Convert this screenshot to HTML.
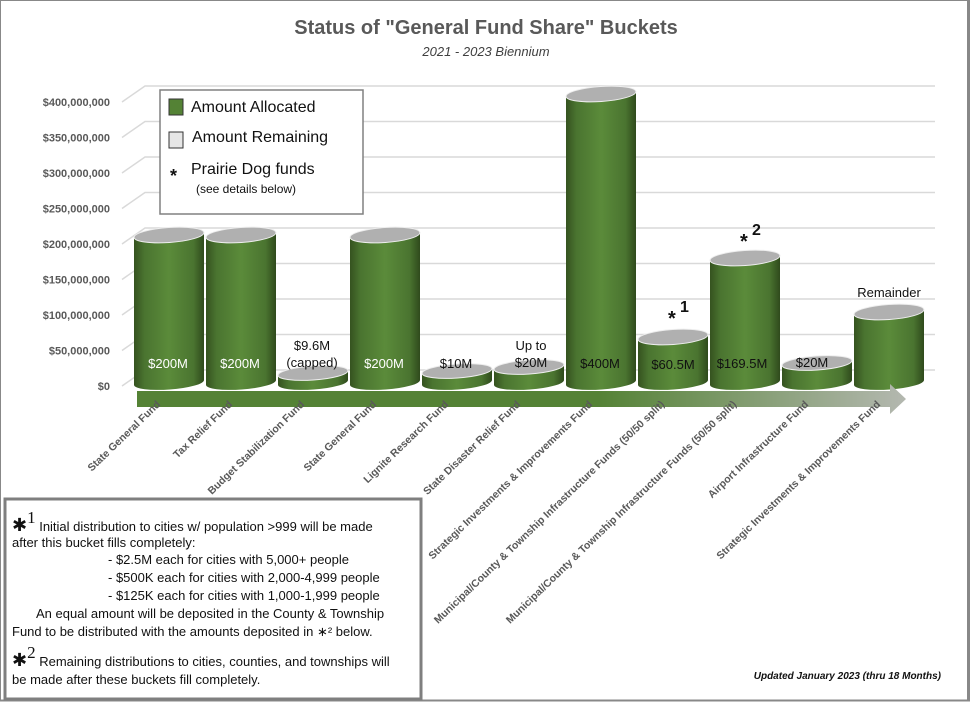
<!DOCTYPE html>
<html><head><meta charset="utf-8"><style>
html,body{margin:0;padding:0;background:#fff}
svg{display:block}
text{font-family:"Liberation Sans",sans-serif}
</style></head><body>
<svg width="972" height="703" viewBox="0 0 972 703" xmlns="http://www.w3.org/2000/svg">
<defs>
<linearGradient id="cyl" x1="0" x2="1" y1="0" y2="0">
<stop offset="0" stop-color="#35521f"/><stop offset="0.15" stop-color="#4a7430"/>
<stop offset="0.5" stop-color="#5b8b3a"/><stop offset="0.85" stop-color="#4a7430"/>
<stop offset="1" stop-color="#2f4a1c"/></linearGradient>
<linearGradient id="arr" x1="0" x2="1" y1="0" y2="0">
<stop offset="0" stop-color="#548235"/><stop offset="0.6" stop-color="#548235"/>
<stop offset="1" stop-color="#b4b8b0"/></linearGradient>
</defs>
<rect x="0.5" y="0.5" width="968" height="700" fill="#fff" stroke="#888" stroke-width="1"/>
<line x1="968.5" y1="0" x2="968.5" y2="701" stroke="#888" stroke-width="3"/>
<line x1="0" y1="700.5" x2="970" y2="700.5" stroke="#888" stroke-width="2"/>
<text x="486" y="34" text-anchor="middle" font-size="20" font-weight="bold" fill="#595959">Status of "General Fund Share" Buckets</text>
<text x="486" y="56" text-anchor="middle" font-size="13" font-style="italic" fill="#404040">2021 - 2023 Biennium</text>
<g stroke="#d9d9d9" stroke-width="1.5" fill="none">
<path d="M122,102 L145,86 H935"/><path d="M122,137.5 L145,121.5 H935"/><path d="M122,173 L145,157 H935"/>
<path d="M122,208.5 L145,192.5 H935"/><path d="M122,244 L145,228 H935"/><path d="M122,279.5 L145,263.5 H935"/>
<path d="M122,315 L145,299 H935"/><path d="M122,350.5 L145,334.5 H935"/><path d="M122,386 L145,370 H935"/>
</g>
<g font-size="11" font-weight="bold" fill="#595959" text-anchor="end">
<text x="110" y="106">$400,000,000</text><text x="110" y="141.5">$350,000,000</text><text x="110" y="177">$300,000,000</text>
<text x="110" y="212.5">$250,000,000</text><text x="110" y="248">$200,000,000</text><text x="110" y="283.5">$150,000,000</text>
<text x="110" y="319">$100,000,000</text><text x="110" y="354.5">$50,000,000</text><text x="110" y="390">$0</text>
</g>
<g id="bars">
<g><path d="M134,237 V385 A35,7 -4 0 0 204,380 V232 Z" fill="url(#cyl)"/><ellipse cx="169" cy="235" rx="35" ry="7.5" transform="rotate(-4 169 235)" fill="#b0b0b0" stroke="#eee"/></g>
<g><path d="M206,237 V385 A35,7 -4 0 0 276,380 V232 Z" fill="url(#cyl)"/><ellipse cx="241" cy="235" rx="35" ry="7.5" transform="rotate(-4 241 235)" fill="#b0b0b0" stroke="#eee"/></g>
<g><path d="M278,375 V385 A35,7 -4 0 0 348,380 V370 Z" fill="url(#cyl)"/><ellipse cx="313" cy="373" rx="35" ry="7" transform="rotate(-4 313 373)" fill="#b0b0b0" stroke="#eee"/></g>
<g><path d="M350,237 V385 A35,7 -4 0 0 420,380 V232 Z" fill="url(#cyl)"/><ellipse cx="385" cy="235" rx="35" ry="7.5" transform="rotate(-4 385 235)" fill="#b0b0b0" stroke="#eee"/></g>
<g><path d="M422,373 V385 A35,7 -4 0 0 492,380 V368 Z" fill="url(#cyl)"/><ellipse cx="457" cy="371" rx="35" ry="7" transform="rotate(-4 457 371)" fill="#b0b0b0" stroke="#eee"/></g>
<g><path d="M494,369 V385 A35,7 -4 0 0 564,380 V364 Z" fill="url(#cyl)"/><ellipse cx="529" cy="367" rx="35" ry="7" transform="rotate(-4 529 367)" fill="#b0b0b0" stroke="#eee"/></g>
<g><path d="M566,96 V385 A35,7 -4 0 0 636,380 V91 Z" fill="url(#cyl)"/><ellipse cx="601" cy="94" rx="35" ry="7.5" transform="rotate(-4 601 94)" fill="#b0b0b0" stroke="#eee"/></g>
<g><path d="M638,339 V385 A35,7 -4 0 0 708,380 V334 Z" fill="url(#cyl)"/><ellipse cx="673" cy="337" rx="35" ry="7.5" transform="rotate(-4 673 337)" fill="#b0b0b0" stroke="#eee"/></g>
<g><path d="M710,260 V385 A35,7 -4 0 0 780,380 V255 Z" fill="url(#cyl)"/><ellipse cx="745" cy="258" rx="35" ry="7.5" transform="rotate(-4 745 258)" fill="#b0b0b0" stroke="#eee"/></g>
<g><path d="M782,365 V385 A35,7 -4 0 0 852,380 V360 Z" fill="url(#cyl)"/><ellipse cx="817" cy="363" rx="35" ry="7" transform="rotate(-4 817 363)" fill="#b0b0b0" stroke="#eee"/></g>
<g><path d="M854,314 V385 A35,7 -4 0 0 924,380 V309 Z" fill="url(#cyl)"/><ellipse cx="889" cy="312" rx="35" ry="7.5" transform="rotate(-4 889 312)" fill="#b0b0b0" stroke="#eee"/></g>
</g>
<g font-size="13" text-anchor="middle">
<text x="168" y="368" fill="#fff">$200M</text><text x="240" y="368" fill="#fff">$200M</text>
<text x="312" y="350" fill="#111">$9.6M</text><text x="312" y="367" fill="#111">(capped)</text>
<text x="384" y="368" fill="#fff">$200M</text><text x="456" y="368" fill="#111">$10M</text>
<text x="531" y="350" fill="#111">Up to</text><text x="531" y="367" fill="#111">$20M</text>
<text x="600" y="368" fill="#111">$400M</text><text x="673" y="369" fill="#111">$60.5M</text>
<text x="742" y="368" fill="#111">$169.5M</text><text x="812" y="367" fill="#111">$20M</text>
<text x="889" y="297" fill="#111">Remainder</text>
</g>
<g font-family="Liberation Serif,serif" font-weight="bold" fill="#111">
<text x="668" y="325" font-size="20">*</text><text x="680" y="312" font-size="16">1</text>
<text x="740" y="248" font-size="20">*</text><text x="752" y="235" font-size="16">2</text>
</g>
<path d="M137,391 H890 V384 L906,399 L890,414 V407 H137 Z" fill="url(#arr)"/>
<g font-size="10.5" font-weight="bold" fill="#595959" text-anchor="end">
<text transform="translate(161,405) rotate(-44)">State General Fund</text>
<text transform="translate(233,405) rotate(-44)">Tax Relief Fund</text>
<text transform="translate(305,405) rotate(-44)">Budget Stabilization Fund</text>
<text transform="translate(377,405) rotate(-44)">State General Fund</text>
<text transform="translate(449,405) rotate(-44)">Lignite Research Fund</text>
<text transform="translate(521,405) rotate(-44)">State Disaster Relief Fund</text>
<text transform="translate(593,405) rotate(-44)">Strategic Investments &amp; Improvements Fund</text>
<text transform="translate(665,405) rotate(-44)">Municipal/County &amp; Township Infrastructure Funds (50/50 split)</text>
<text transform="translate(737,405) rotate(-44)">Municipal/County &amp; Township Infrastructure Funds (50/50 split)</text>
<text transform="translate(809,405) rotate(-44)">Airport Infrastructure Fund</text>
<text transform="translate(881,405) rotate(-44)">Strategic Investments &amp; Improvements Fund</text>
</g>
<rect x="160" y="90" width="203" height="124" fill="#fff" stroke="#808080" stroke-width="1.5"/>
<rect x="169" y="99" width="14" height="16" fill="#548235" stroke="#333"/>
<text x="191" y="112" font-size="16" fill="#111">Amount Allocated</text>
<rect x="169" y="132" width="14" height="16" fill="#e6e6e6" stroke="#333"/>
<text x="192" y="142" font-size="16" fill="#111">Amount Remaining</text>
<text x="170" y="182" font-size="18" font-weight="bold" fill="#111" font-family="Liberation Serif,serif">*</text>
<text x="191" y="174" font-size="16" fill="#111">Prairie Dog funds</text>
<text x="196" y="193" font-size="12" fill="#111">(see details below)</text>
<rect x="5" y="499" width="416" height="200" fill="#fff" stroke="#7f7f7f" stroke-width="3"/>
<g font-size="13" fill="#111">
<text x="12" y="531"><tspan font-size="18" font-family="DejaVu Sans,sans-serif">✱</tspan><tspan font-size="17" dy="-8" font-family="Liberation Serif,serif">1</tspan><tspan dy="8"> Initial distribution to cities w/ population &gt;999 will be made</tspan></text>
<text x="12" y="547">after this bucket fills completely:</text>
<text x="108" y="564">- $2.5M each for cities with 5,000+ people</text>
<text x="108" y="582">- $500K each for cities with 2,000-4,999 people</text>
<text x="108" y="600">- $125K each for cities with 1,000-1,999 people</text>
<text x="36" y="618">An equal amount will be deposited in the County &amp; Township</text>
<text x="12" y="636">Fund to be distributed with the amounts deposited in ∗² below.</text>
<text x="12" y="666"><tspan font-size="18" font-family="DejaVu Sans,sans-serif">✱</tspan><tspan font-size="17" dy="-8" font-family="Liberation Serif,serif">2</tspan><tspan dy="8"> Remaining distributions to cities, counties, and townships will</tspan></text>
<text x="12" y="684">be made after these buckets fill completely.</text>
</g>
<text x="941" y="679" text-anchor="end" font-size="10" font-weight="bold" font-style="italic" fill="#111">Updated January 2023 (thru 18 Months)</text>
</svg>
</body></html>
